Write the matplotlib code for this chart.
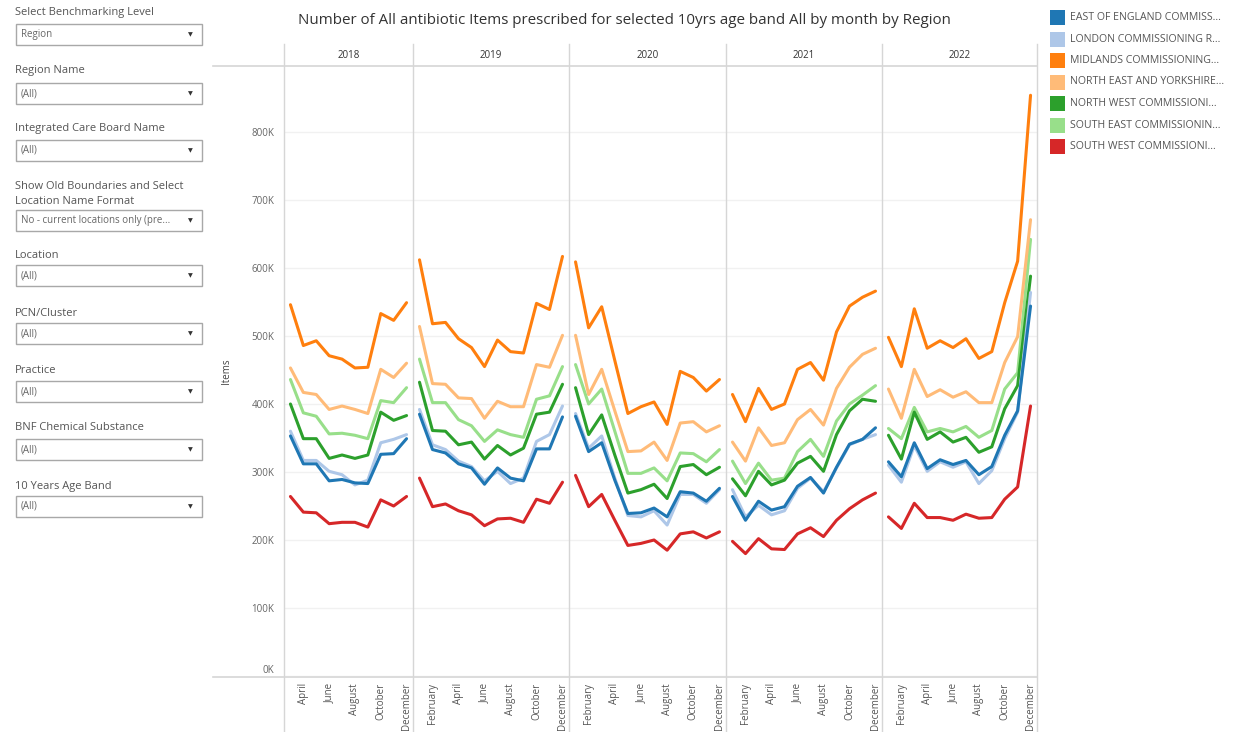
import matplotlib
matplotlib.use("Agg")
import matplotlib.pyplot as plt
from matplotlib.patches import Rectangle
from matplotlib.lines import Line2D

plt.rcParams['font.family'] = ['Open Sans', 'DejaVu Sans']

# ---------------- data (thousands of items) ----------------
years = [2018, 2019, 2020, 2021, 2022]
first_month = {2018: 3, 2019: 1, 2020: 1, 2021: 1, 2022: 1}
month_names = ['January', 'February', 'March', 'April', 'May', 'June', 'July',
               'August', 'September', 'October', 'November', 'December']

regions = ['EAST OF ENGLAND COMMISS...', 'LONDON COMMISSIONING R...',
           'MIDLANDS COMMISSIONING...', 'NORTH EAST AND YORKSHIRE...',
           'NORTH WEST COMMISSIONI...', 'SOUTH EAST COMMISSIONIN...',
           'SOUTH WEST COMMISSIONI...']
colors = ['#1f77b4', '#aec7e8', '#ff7f0e', '#ffbb78', '#2ca02c', '#98df8a', '#d62728']

east_of_england = [353, 312, 312, 287, 289, 284, 283, 326, 327, 349,
                   385, 333, 328, 312, 306, 282, 306, 291, 287, 334, 334, 381,
                   382, 330, 343, 288, 239, 240, 247, 234, 271, 269, 257, 276,
                   264, 229, 257, 244, 249, 279, 292, 269, 307, 341, 348, 365,
                   315, 293, 343, 305, 318, 311, 317, 296, 308, 354, 390, 544]
london = [360, 317, 317, 301, 296, 281, 288, 343, 348, 355,
          392, 340, 333, 316, 308, 287, 301, 283, 291, 345, 355, 397,
          386, 335, 353, 291, 236, 234, 243, 222, 267, 267, 254, 274,
          274, 234, 251, 237, 243, 276, 291, 271, 306, 340, 348, 355,
          310, 285, 339, 301, 315, 307, 315, 283, 302, 349, 388, 564]
midlands = [546, 486, 493, 471, 466, 453, 454, 533, 523, 549,
            612, 518, 520, 496, 483, 455, 494, 477, 475, 548, 539, 617,
            609, 512, 543, 464, 386, 396, 403, 370, 448, 439, 419, 436,
            414, 374, 423, 392, 400, 451, 461, 435, 506, 544, 557, 566,
            498, 455, 540, 482, 493, 483, 496, 467, 477, 549, 610, 854]
north_east_yorkshire = [453, 417, 414, 392, 397, 392, 386, 451, 439, 460,
                        514, 430, 429, 409, 408, 379, 404, 396, 396, 458, 454, 501,
                        501, 414, 451, 390, 330, 331, 344, 317, 372, 374, 359, 368,
                        344, 316, 365, 339, 343, 377, 392, 369, 423, 454, 473, 482,
                        422, 379, 451, 411, 421, 410, 418, 402, 402, 461, 499, 671]
north_west = [400, 349, 349, 320, 325, 320, 325, 388, 376, 383,
              432, 361, 360, 340, 344, 319, 339, 325, 335, 385, 388, 429,
              424, 355, 384, 325, 269, 274, 282, 261, 308, 311, 296, 307,
              290, 265, 301, 281, 288, 313, 323, 301, 355, 390, 407, 404,
              354, 319, 388, 348, 359, 344, 351, 329, 337, 393, 427, 588]
south_east = [436, 387, 382, 356, 357, 354, 349, 405, 402, 424,
              466, 402, 402, 377, 368, 345, 362, 355, 351, 407, 412, 455,
              458, 400, 422, 360, 298, 298, 306, 287, 328, 327, 315, 333,
              316, 283, 313, 288, 291, 330, 348, 323, 375, 400, 413, 427,
              364, 349, 395, 359, 364, 359, 367, 351, 361, 422, 446, 642]
south_west = [264, 241, 240, 224, 226, 226, 219, 259, 250, 264,
              291, 249, 253, 243, 237, 221, 231, 232, 226, 260, 254, 285,
              295, 249, 267, 229, 192, 195, 200, 185, 209, 212, 203, 212,
              198, 180, 202, 187, 186, 209, 218, 205, 229, 246, 259, 269,
              234, 217, 254, 233, 233, 229, 238, 232, 233, 260, 278, 397]
series = [east_of_england, london, midlands, north_east_yorkshire,
          north_west, south_east, south_west]

yticks = [0, 100, 200, 300, 400, 500, 600, 700, 800]

filters = [('Select Benchmarking Level', 'Region'),
           ('Region Name', '(All)'),
           ('Integrated Care Board Name', '(All)'),
           ('Show Old Boundaries and Select\nLocation Name Format', 'No - current locations only (pre...'),
           ('Location', '(All)'),
           ('PCN/Cluster', '(All)'),
           ('Practice', '(All)'),
           ('BNF Chemical Substance', '(All)'),
           ('10 Years Age Band', '(All)')]

title = 'Number of All antibiotic Items prescribed for selected 10yrs age band All by month by Region'

# ---------------- layout helpers ----------------
W, H = 1235, 732
fig = plt.figure(figsize=(W / 100, H / 100), dpi=100)
fig.patch.set_facecolor('white')


def fx(x):
    return x / W


def fy(y):
    return 1 - y / H


GRID = '#d6d6d6'
panel_edges = [284, 413, 569, 726, 882, 1037]
plot_top, plot_bot = 66, 676
ymax = (plot_bot - plot_top) / 0.68

# ---------------- panels ----------------
start = 0
for i, yr in enumerate(years):
    m0 = first_month[yr]
    months = list(range(m0, 13))
    n = len(months)
    x0, x1 = panel_edges[i], panel_edges[i + 1]
    ax = fig.add_axes([fx(x0), fy(plot_bot), (x1 - x0) / W, (plot_bot - plot_top) / H])
    ax.set_xlim(m0 - 0.5, 12.5)
    ax.set_ylim(0, ymax)
    for s in ax.spines.values():
        s.set_visible(False)
    ax.set_yticks(yticks)
    ax.yaxis.grid(True, color='#f1f1f1', lw=1)
    ax.set_axisbelow(True)
    ax.tick_params(axis='y', length=0, labelsize=7, labelcolor='#666666', pad=7)
    if i == 0:
        labels = ax.set_yticklabels([f'{v}K' for v in yticks])
        labels[0].set_va('bottom')
        ax.set_ylabel('Items', fontsize=7, color='#444444', labelpad=14)
    else:
        ax.set_yticklabels([])
    even = [m for m in months if m % 2 == 0]
    ax.set_xticks(even)
    ax.set_xticklabels([month_names[m - 1] for m in even], rotation=90,
                       fontsize=7, color='#555555')
    ax.tick_params(axis='x', length=0, pad=5)
    for k in reversed(range(len(series))):
        ax.plot(months, series[k][start:start + n], color=colors[k], lw=2.2,
                solid_joinstyle='round', solid_capstyle='round', zorder=3 + (7 - k) * 0.1)
    start += n
    fig.text(fx((x0 + x1) / 2), fy(55), str(yr), ha='center', va='center',
             fontsize=7, color='#333333')

# separators / frame lines
for x in panel_edges:
    fig.add_artist(Line2D([fx(x), fx(x)], [fy(44), fy(732)], color=GRID, lw=1))
for y in [66, 677]:
    fig.add_artist(Line2D([fx(213), fx(1037)], [fy(y), fy(y)], color=GRID, lw=1.2))

# title
fig.text(fx(624), fy(21), title, ha='center', va='center', fontsize=10.9, color='#333333')

# legend
for k, name in enumerate(regions):
    yc = 17.5 + k * 21.5
    fig.add_artist(Rectangle((fx(1050), fy(yc + 7.5)), 15 / W, 15 / H,
                             facecolor=colors[k], edgecolor='none'))
    fig.text(fx(1070), fy(yc), name, ha='left', va='center', fontsize=7.6, color='#555555')

# filter panel
label_y = [13, 71, 129, 194, 256, 313, 371, 428, 486]
box_top = [24, 83, 140, 210, 265, 323, 381, 439, 496]
for (lab, val), ly, bt in zip(filters, label_y, box_top):
    fig.text(fx(15), fy(ly), lab, ha='left', va='center', fontsize=8.0,
             color='#555555', linespacing=1.45)
    fig.add_artist(Rectangle((fx(16), fy(bt + 21)), 186 / W, 21 / H,
                             facecolor='white', edgecolor='#a8a8a8', lw=1))
    fig.text(fx(21), fy(bt + 10.5), val, ha='left', va='center', fontsize=7.0, color='#666666')
    fig.text(fx(190), fy(bt + 11), '\u25BC', ha='center', va='center', fontsize=4.5, color='#333333')

fig.savefig('out.png', dpi=100, facecolor='white')
